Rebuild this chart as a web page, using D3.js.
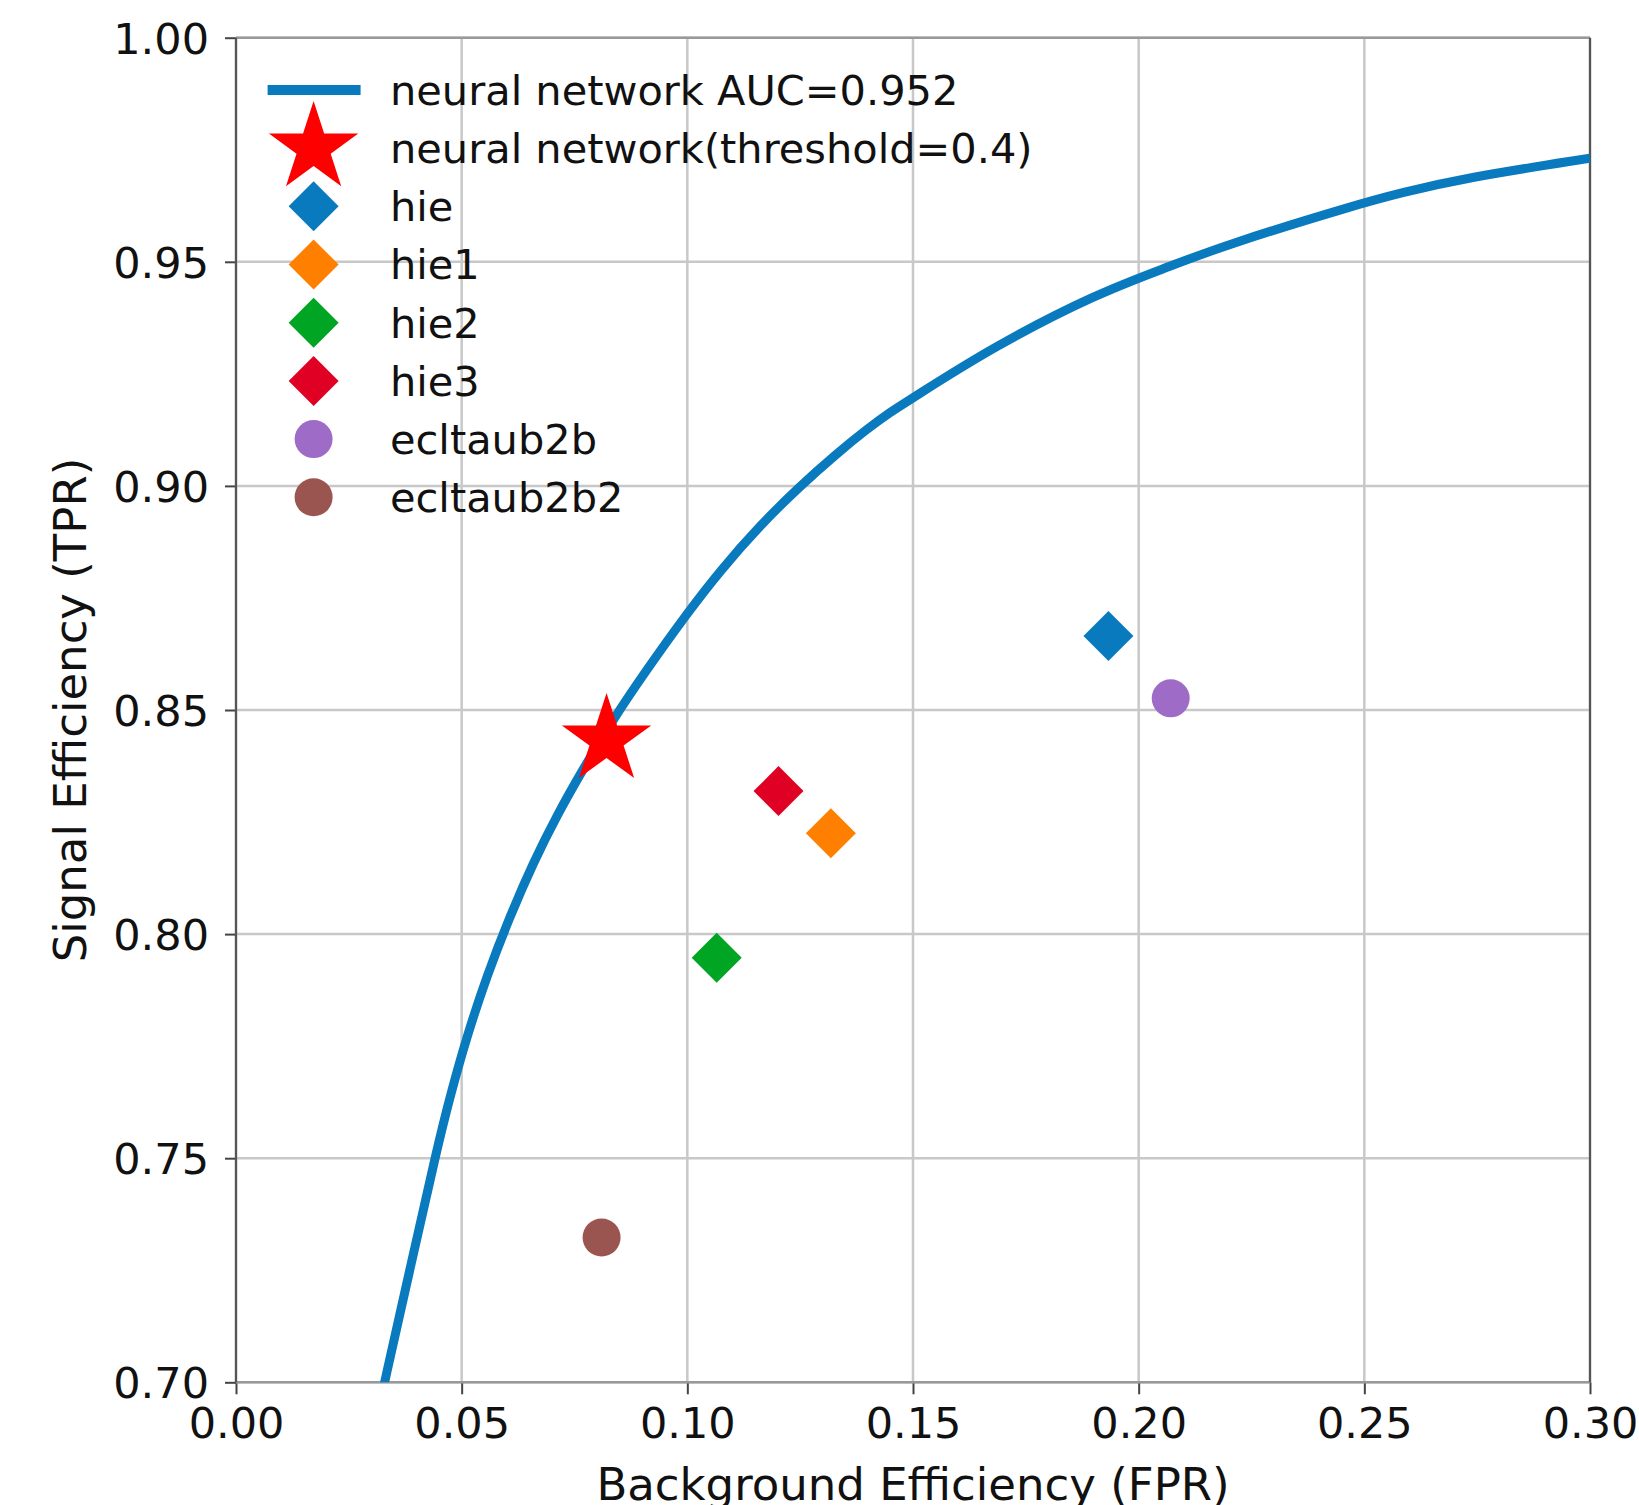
<!DOCTYPE html>
<html>
<head>
<meta charset="utf-8">
<script src="https://cdn.jsdelivr.net/npm/d3@7"></script>
<style>
  body { margin: 0; background: #fff; }
  svg { display: block; font-family: "DejaVu Sans", sans-serif; }
</style>
</head>
<body>
<div id="chart"></div>
<script>
// ROC curve of the neural network (FPR, TPR)
const rocFpr = [0.031, 0.0330, 0.0385, 0.0445, 0.0474, 0.0511, 0.0555, 0.0607, 0.0659, 0.0711, 0.0770, 0.0836, 0.0910, 0.0999, 0.1072, 0.1161, 0.1250, 0.1331, 0.1397, 0.1450, 0.1490, 0.1677, 0.1909, 0.2070, 0.2187, 0.2488, 0.2579, 0.2720, 0.30];
const rocTpr = [0.691, 0.7005, 0.7250, 0.7520, 0.7637, 0.7770, 0.7905, 0.8040, 0.8160, 0.8265, 0.8370, 0.8480, 0.8590, 0.8715, 0.8810, 0.8912, 0.9000, 0.9072, 0.9126, 0.9165, 0.9190, 0.9310, 0.9430, 0.9490, 0.9536, 0.9629, 0.9653, 0.9687, 0.9731];

// single working points
const pointNames = ["neural network(threshold=0.4)", "hie", "hie1", "hie2", "hie3", "ecltaub2b", "ecltaub2b2"];
const pointFpr = [0.0821, 0.1933, 0.1318, 0.1065, 0.1202, 0.2071, 0.0810];
const pointTpr = [0.8433, 0.8665, 0.8225, 0.7947, 0.8319, 0.8526, 0.7323];
const pointShapes = ["star", "diamond", "diamond", "diamond", "diamond", "circle", "circle"];
const pointColors = ["#ff0000", "#0a7abe", "#ff7f00", "#00a523", "#e00024", "#9e6cc6", "#9a5550"];

const curveLabel = "neural network AUC=0.952";
const curveColor = "#0a7abe";

const xTicks = [0, 0.05, 0.10, 0.15, 0.20, 0.25, 0.30];
const yTicks = [0.70, 0.75, 0.80, 0.85, 0.90, 0.95, 1.00];

const width = 1639, height = 1505;
const plotLeft = 236, plotRight = 1590, plotTop = 37.7, plotBottom = 1382.3;
const legendFont = 41.5, tickFont = 43, labelFont = 45;

const svg = d3.select("#chart").append("svg")
  .attr("width", width)
  .attr("height", height);

const x = d3.scaleLinear().domain([0, 0.30]).range([plotLeft, plotRight]);
const y = d3.scaleLinear().domain([0.70, 1.00]).range([plotBottom, plotTop]);

// grid
svg.append("g").selectAll("line").data(xTicks).join("line")
  .attr("x1", d => x(d)).attr("x2", d => x(d))
  .attr("y1", plotTop).attr("y2", plotBottom)
  .attr("stroke", "#c8c8c8").attr("stroke-width", 2.5);
svg.append("g").selectAll("line").data(yTicks).join("line")
  .attr("y1", d => y(d)).attr("y2", d => y(d))
  .attr("x1", plotLeft).attr("x2", plotRight)
  .attr("stroke", "#c8c8c8").attr("stroke-width", 2.5);

// axes
const xAxis = svg.append("g")
  .attr("transform", `translate(0,${plotBottom})`)
  .call(d3.axisBottom(x).tickValues(xTicks).tickFormat(d3.format(".2f")).tickSize(12).tickPadding(13));
const yAxis = svg.append("g")
  .attr("transform", `translate(${plotLeft},0)`)
  .call(d3.axisLeft(y).tickValues(yTicks).tickFormat(d3.format(".2f")).tickSize(11).tickPadding(16));
[xAxis, yAxis].forEach(a => {
  a.select(".domain").remove();
  a.selectAll(".tick line").attr("stroke", "#444").attr("stroke-width", 2);
  a.selectAll(".tick text")
    .attr("font-family", "DejaVu Sans")
    .attr("font-size", tickFont)
    .attr("fill", "#111");
});
yAxis.selectAll(".tick text").attr("dy", "0.36em");

// spines
svg.append("line").attr("x1", plotLeft).attr("x2", plotRight).attr("y1", plotTop).attr("y2", plotTop)
  .attr("stroke", "#999").attr("stroke-width", 2.5);
svg.append("line").attr("x1", plotLeft).attr("x2", plotRight).attr("y1", plotBottom).attr("y2", plotBottom)
  .attr("stroke", "#999").attr("stroke-width", 2.5);
svg.append("line").attr("x1", plotLeft).attr("x2", plotLeft).attr("y1", plotTop).attr("y2", plotBottom)
  .attr("stroke", "#555").attr("stroke-width", 2.2);
svg.append("line").attr("x1", plotRight).attr("x2", plotRight).attr("y1", plotTop).attr("y2", plotBottom)
  .attr("stroke", "#555").attr("stroke-width", 2.2);

// axis labels
svg.append("text")
  .attr("x", (plotLeft + plotRight) / 2).attr("y", 1500)
  .attr("text-anchor", "middle")
  .attr("font-size", labelFont).attr("fill", "#111")
  .text("Background Efficiency (FPR)");
svg.append("text")
  .attr("transform", `translate(86,${(plotTop + plotBottom) / 2}) rotate(-90)`)
  .attr("text-anchor", "middle")
  .attr("font-size", labelFont).attr("fill", "#111")
  .text("Signal Efficiency (TPR)");

// ROC curve, clipped to the axes
svg.append("clipPath").attr("id", "plotClip")
  .append("rect").attr("x", plotLeft).attr("y", plotTop)
  .attr("width", plotRight - plotLeft).attr("height", plotBottom - plotTop);

const line = d3.line()
  .x(i => x(rocFpr[i]))
  .y(i => y(rocTpr[i]))
  .curve(d3.curveBasis);
svg.append("path")
  .attr("clip-path", "url(#plotClip)")
  .attr("d", line(d3.range(rocFpr.length)))
  .attr("fill", "none")
  .attr("stroke", curveColor)
  .attr("stroke-width", 9)
  .attr("stroke-linejoin", "round");

// markers
const symbolFor = shape => {
  if (shape === "star") return d3.symbol(d3.symbolStar, 2480)();
  if (shape === "diamond") return d3.symbol(d3.symbolSquare, 1250)();
  return d3.symbol(d3.symbolCircle, 1134)();
};
const rotFor = shape => shape === "diamond" ? " rotate(45)" : "";

svg.append("g").selectAll("path").data(d3.range(pointNames.length)).join("path")
  .attr("d", i => symbolFor(pointShapes[i]))
  .attr("transform", i => `translate(${x(pointFpr[i])},${y(pointTpr[i])})${rotFor(pointShapes[i])}`)
  .attr("fill", i => pointColors[i]);

// legend (no frame)
const legX = 313.6, legY0 = 89.9, legStep = 58.2, legTextX = 390;
const legend = svg.append("g");
legend.append("line")
  .attr("x1", 267.6).attr("x2", 360.6)
  .attr("y1", legY0).attr("y2", legY0)
  .attr("stroke", curveColor).attr("stroke-width", 10);
legend.append("text")
  .attr("x", legTextX).attr("y", legY0).attr("dy", "0.36em")
  .attr("font-size", legendFont).attr("fill", "#111")
  .text(curveLabel);

pointNames.forEach((name, i) => {
  const ly = legY0 + (i + 1) * legStep;
  legend.append("path")
    .attr("d", symbolFor(pointShapes[i]))
    .attr("transform", `translate(${legX},${ly})${rotFor(pointShapes[i])}`)
    .attr("fill", pointColors[i]);
  legend.append("text")
    .attr("x", legTextX).attr("y", ly).attr("dy", "0.36em")
    .attr("font-size", legendFont).attr("fill", "#111")
    .text(name);
});
</script>
</body>
</html>
